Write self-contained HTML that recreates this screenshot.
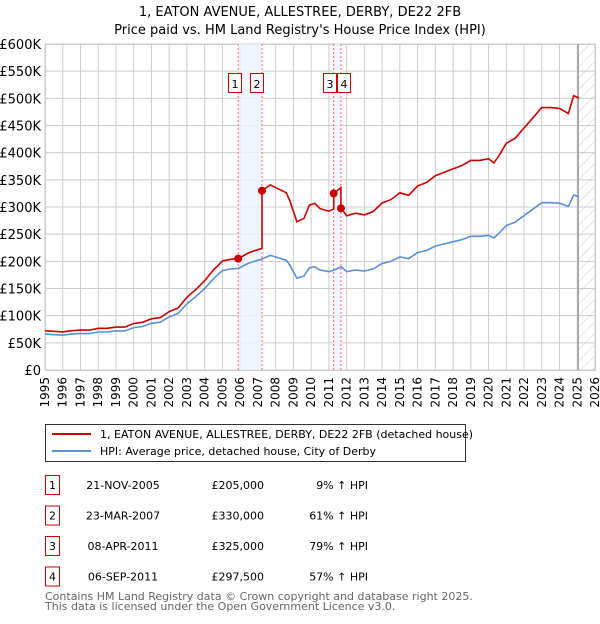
<!DOCTYPE html>
<html><head><meta charset="utf-8"><style>
body{margin:0;background:#fff;font-family:"DejaVu Sans","Liberation Sans",sans-serif;}
svg text{font-family:"DejaVu Sans","Liberation Sans",sans-serif;}
</style></head><body>
<svg id="chart" width="600" height="620" xmlns="http://www.w3.org/2000/svg">
<defs><pattern id="hatch" width="8" height="8" patternUnits="userSpaceOnUse" patternTransform="rotate(45)"><line x1="0" y1="0" x2="0" y2="8" stroke="#ccc" stroke-width="1"/></pattern></defs>
<text x="300" y="16" text-anchor="middle" font-size="13">1, EATON AVENUE, ALLESTREE, DERBY, DE22 2FB</text>
<text x="300" y="34" text-anchor="middle" font-size="13">Price paid vs. HM Land Registry's House Price Index (HPI)</text>
<g id="grid"></g><g id="bands"></g><g id="series"></g><g id="axes"></g>
<g>
<rect x="45.5" y="424.5" width="420" height="37" fill="#fff" stroke="#333"/>
<line x1="52" y1="434" x2="91" y2="434" stroke="#cc0000" stroke-width="2"/>
<text x="100" y="438" font-size="11">1, EATON AVENUE, ALLESTREE, DERBY, DE22 2FB (detached house)</text>
<line x1="52" y1="451" x2="91" y2="451" stroke="#5b8fd6" stroke-width="2"/>
<text x="100" y="455" font-size="11">HPI: Average price, detached house, City of Derby</text>
</g>
<g id="table" font-size="11"></g>
<text x="45" y="600" font-size="11" fill="#666">Contains HM Land Registry data © Crown copyright and database right 2025.</text>
<text x="45" y="610" font-size="11" fill="#666">This data is licensed under the Open Government Licence v3.0.</text>
</svg>
<script>
const hpiT=[1995,1995.5,1996,1996.5,1997,1997.5,1998,1998.5,1999,1999.5,2000,2000.5,2001,2001.5,2002,2002.5,2003,2003.5,2004,2004.5,2005,2005.5,2005.9,2006.5,2007.2,2007.7,2008.3,2008.6,2008.8,2009.2,2009.6,2009.9,2010.2,2010.5,2011,2011.3,2011.7,2012,2012.5,2013,2013.5,2014,2014.5,2015,2015.5,2016,2016.5,2017,2017.5,2018,2018.5,2019,2019.5,2020,2020.3,2020.6,2021,2021.5,2022,2022.5,2023,2023.5,2024,2024.5,2024.8,2025.1];
const hpiV=[66,65,64,66,67,67,70,70,72,72,78,80,86,88,98,104,122,135,150,168,183,186,187,197,204,211,205,202,193,169,173,188,190,184,181,184,190,181,184,182,186,196,200,208,205,216,220,228,232,236,240,246,246,248,243,252,266,272,284,296,308,308,307,301,322,319];
const saleT=[2005.89,2007.23,2011.27,2011.68];
const salePrice=[205,330,325,297.5];
const saleLabel=["1","2","3","4"];
const saleDate=["21-NOV-2005","23-MAR-2007","08-APR-2011","06-SEP-2011"];
const saleText=["£205,000","£330,000","£325,000","£297,500"];
const saleHpi=["9% ↑ HPI","61% ↑ HPI","79% ↑ HPI","57% ↑ HPI"];
const yTicks=[0,50,100,150,200,250,300,350,400,450,500,550,600];
const yLabels=["£0","£50K","£100K","£150K","£200K","£250K","£300K","£350K","£400K","£450K","£500K","£550K","£600K"];
const xYears=[1995,1996,1997,1998,1999,2000,2001,2002,2003,2004,2005,2006,2007,2008,2009,2010,2011,2012,2013,2014,2015,2016,2017,2018,2019,2020,2021,2022,2023,2024,2025,2026];
const nowT=2025.05;
const X0=45,X1=595,Y0=370,Y1=44;
const xs=t=>X0+(t-1995)/31*(X1-X0);
const ys=v=>Y0-v/600*(Y0-Y1);
const NS="http://www.w3.org/2000/svg";
function mk(tag,attrs,parent,txt){const e=document.createElementNS(NS,tag);for(const k in attrs)e.setAttribute(k,attrs[k]);if(txt!=null)e.textContent=txt;parent.appendChild(e);return e;}
const grid=document.getElementById('grid'),bands=document.getElementById('bands'),ser=document.getElementById('series'),axes=document.getElementById('axes'),tbl=document.getElementById('table');
yTicks.forEach((v,i)=>{
 const l=mk('line',{x1:X0,x2:X1,y1:ys(v),y2:ys(v),stroke:'#ccc'},grid);
 
 
 const t=mk('text',{x:X0-4,y:ys(v)+5,'text-anchor':'end','font-size':13},axes,yLabels[i]);
 
 
});
xYears.forEach(y=>{
 const l=mk('line',{x1:xs(y),x2:xs(y),y1:Y1,y2:Y0,stroke:'#ccc'},grid);
 
 
 const t=mk('text',{x:0,y:0,'text-anchor':'end','font-size':12,transform:`translate(${xs(y)+4},377) rotate(-90)`},axes,String(y));
 
 
});
const hz=mk('rect',{x:xs(nowT),y:Y1,width:X1-xs(nowT),height:Y0-Y1,fill:'url(#hatch)'},bands);


const nl=mk('line',{x1:xs(nowT),x2:xs(nowT),y1:Y1,y2:Y0,stroke:'#999','stroke-width':1.5},bands);


[[0,1],[2,3]].forEach(p=>{
 const b=mk('rect',{x:xs(saleT[p[0]]),y:Y1,width:xs(saleT[p[1]])-xs(saleT[p[0]]),height:Y0-Y1,fill:'#eef3fc',opacity:0.8},bands);
 
 
});
saleT.forEach((t,i)=>{
 const l=mk('line',{x1:xs(t),x2:xs(t),y1:Y1,y2:Y0,stroke:'#f66','stroke-dasharray':'2,2'},bands);
 
 
});
mk('rect',{x:X0+0.5,y:Y1+0.5,width:X1-X0,height:Y0-Y1,fill:'none',stroke:'#ccc'},grid);
function hpiAt(t){if(t<=hpiT[0])return hpiV[0];for(let i=1;i<hpiT.length;i++)if(t<=hpiT[i]){const f=(t-hpiT[i-1])/(hpiT[i]-hpiT[i-1]);return hpiV[i-1]+f*(hpiV[i]-hpiV[i-1]);}return hpiV[hpiV.length-1];}
const hp=hpiT.map((t,i)=>xs(t).toFixed(1)+','+ys(hpiV[i]).toFixed(1)).join(' ');
const hl=mk('polyline',{points:hp,fill:'none',stroke:'#5b8fd6','stroke-width':1.6},ser);


const ratio=k=>salePrice[k]/hpiAt(saleT[k]);
let pts=[];
const all=hpiT.map(t=>({t,s:false})).concat(saleT.map((t,k)=>({t,s:true,k}))).sort((a,b)=>a.t-b.t);
all.forEach(o=>{
 if(o.s){const kPrev=Math.max(0,o.k-1);pts.push([o.t,hpiAt(o.t)*ratio(kPrev)]);pts.push([o.t,salePrice[o.k]]);}
 else{let k=0;saleT.forEach((st,j)=>{if(o.t>=st)k=j;});pts.push([o.t,hpiAt(o.t)*ratio(k)]);}
});
const rl=mk('polyline',{points:pts.map(p=>xs(p[0]).toFixed(1)+','+ys(p[1]).toFixed(1)).join(' '),fill:'none',stroke:'#cc0000','stroke-width':1.6},ser);


const labOff=[-10,-12,-11,-4];
saleT.forEach((t,i)=>{
 const c=mk('circle',{cx:xs(t),cy:ys(salePrice[i]),r:4,fill:'#cc0000'},ser);
 
 
 const g=mk('g',{},ser);
 
 
 const x=Math.round(xs(t)+labOff[i]);
 mk('rect',{x:x+0.5,y:73.5,width:13,height:19,fill:'#fff',stroke:'#cc0000'},g);
 mk('text',{x:x+7,y:88,'text-anchor':'middle','font-size':11},g,saleLabel[i]);
});
saleT.forEach((t,i)=>{
 const y=485+i*30.5;
 const g=mk('g',{},tbl);
 
 
 mk('rect',{x:45.5,y:y-9.5,width:14,height:19,fill:'#fff',stroke:'#cc0000'},g);
 mk('text',{x:52.5,y:y+4,'text-anchor':'middle'},g,saleLabel[i]);
 mk('text',{x:123,y:y+4,'text-anchor':'middle'},g,saleDate[i]);
 mk('text',{x:264,y:y+4,'text-anchor':'end'},g,saleText[i]);
 mk('text',{x:368,y:y+4,'text-anchor':'end'},g,saleHpi[i]);
});
</script>
</body></html>
